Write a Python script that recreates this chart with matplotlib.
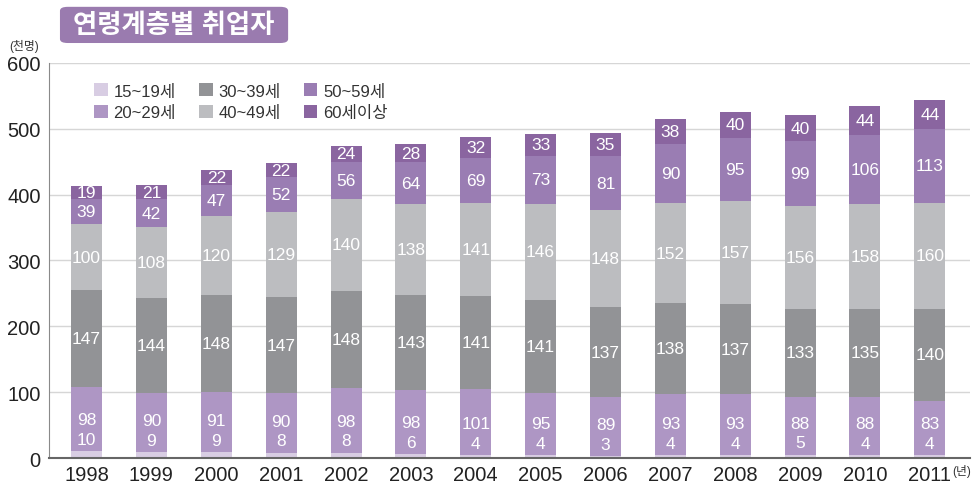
import numpy as np
import matplotlib.pyplot as plt
from matplotlib.patches import FancyBboxPatch, Patch

plt.rcParams['font.family'] = ['Liberation Sans', 'Noto Sans CJK KR', 'DejaVu Sans']

years = ["1998", "1999", "2000", "2001", "2002", "2003", "2004",
         "2005", "2006", "2007", "2008", "2009", "2010", "2011"]
age_15_19 = [10, 9, 9, 8, 8, 6, 4, 4, 3, 4, 4, 5, 4, 4]
age_20_29 = [98, 90, 91, 90, 98, 98, 101, 95, 89, 93, 93, 88, 88, 83]
age_30_39 = [147, 144, 148, 147, 148, 143, 141, 141, 137, 138, 137, 133, 135, 140]
age_40_49 = [100, 108, 120, 129, 140, 138, 141, 146, 148, 152, 157, 156, 158, 160]
age_50_59 = [39, 42, 47, 52, 56, 64, 69, 73, 81, 90, 95, 99, 106, 113]
age_60 = [19, 21, 22, 22, 24, 28, 32, 33, 35, 38, 40, 40, 44, 44]

series = [age_15_19, age_20_29, age_30_39, age_40_49, age_50_59, age_60]
names = ["15~19세", "20~29세", "30~39세", "40~49세", "50~59세", "60세이상"]
colors = ["#d8cde3", "#ae96c4", "#929396", "#bcbdc0", "#9a7db3", "#8a65a0"]

fig = plt.figure(figsize=(9.75, 4.89), dpi=100)
ax = fig.add_axes([0.0503, 0.0613, 0.9446, 0.808])

x = np.arange(len(years))
w = 0.478
bottom = np.zeros(len(years))
for vals, col in zip(series, colors):
    vals = np.array(vals)
    ax.bar(x, vals, w, bottom=bottom, color=col, zorder=2)
    bottom = bottom + vals

# value labels (15~19 and 20~29 both sit in the 20~29 block)
tk = dict(color="white", ha="center", va="center", fontsize=12.5, zorder=3)
for i in range(len(years)):
    b1 = age_15_19[i]
    ax.text(x[i], b1 + 18, str(age_15_19[i]), **tk)
    ax.text(x[i], b1 + 48, str(age_20_29[i]), **tk)
    b2 = b1 + age_20_29[i]
    ax.text(x[i], b2 + age_30_39[i] / 2, str(age_30_39[i]), **tk)
    b3 = b2 + age_30_39[i]
    ax.text(x[i], b3 + age_40_49[i] / 2, str(age_40_49[i]), **tk)
    b4 = b3 + age_40_49[i]
    ax.text(x[i], b4 + age_50_59[i] / 2, str(age_50_59[i]), **tk)
    b5 = b4 + age_50_59[i]
    ax.text(x[i], b5 + age_60[i] / 2, str(age_60[i]), **tk)

ax.set_ylim(0, 600)
ax.set_xlim(-0.578, 13.62)
ax.set_yticks(range(0, 601, 100))
ax.set_xticks(x)
ax.set_xticklabels(years)
ax.tick_params(length=0, labelsize=14.5, colors="#222222")
ax.tick_params(axis="x", pad=5)
ax.tick_params(axis="y", pad=6)
ax.grid(axis="y", color="#d6d6d6", linewidth=1, zorder=0)
for s in ["top", "right"]:
    ax.spines[s].set_visible(False)
ax.spines["left"].set_color("#8a8a8a")
ax.spines["bottom"].set_color("#666666")
ax.spines["bottom"].set_linewidth(1.5)

handles = [Patch(facecolor=c, edgecolor="none") for c in colors]
leg = ax.legend(handles, names, ncol=3, loc="upper left",
                bbox_to_anchor=(0.042, 0.965), frameon=False, fontsize=12,
                handlelength=0.8, handleheight=0.8, handletextpad=0.35,
                columnspacing=1.4, labelspacing=0.4, borderaxespad=0)
for t in leg.get_texts():
    t.set_color("#333333")

# title box
box = FancyBboxPatch((0.0615, 0.910), 0.234, 0.074, transform=fig.transFigure,
                     boxstyle="round,pad=0,rounding_size=0.008",
                     facecolor="#9a7baf", edgecolor="none")
fig.patches.append(box)
fig.text(0.178, 0.947, "연령계층별 취업자", color="white", fontsize=19,
         fontweight="bold", ha="center", va="center")
fig.text(0.009, 0.904, "(천명)", fontsize=8.5, color="#333333", va="center")
fig.text(0.977, 0.035, "(년)", fontsize=8.5, color="#333333", va="center")

fig.savefig("out.png", dpi=100)
